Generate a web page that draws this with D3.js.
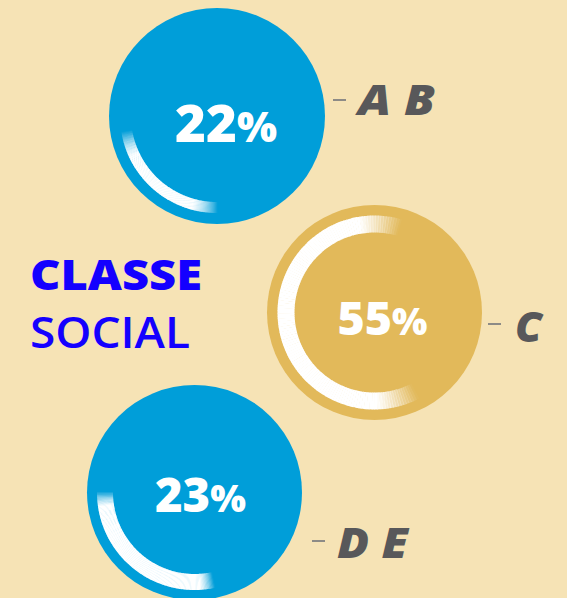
<!DOCTYPE html>
<html><head><meta charset="utf-8">
<script src="https://cdn.jsdelivr.net/npm/d3@7"></script>
<style>
html,body{margin:0;padding:0;background:#f6e3b5;}
svg{display:block;}
</style></head>
<body>
<script>
// ---- data ----
const categories = ["A B", "C", "D E"];
const values = [22, 55, 23];
const titleLines = ["CLASSE", "SOCIAL"];

// ---- layout / style ----
const W = 567, H = 598;
const FONT = "'Open Sans', Lato, sans-serif";
const colors = ["#009ed9", "#e2b95a", "#009ed9"];
const layout = [
  {cx:217, cy:116, r:108, ri:86, ro:97, mid:220, ext:2, fade:16, fs:52, dx:9, by:142, vw:102, lx:333, ly:100, tx:358, tb:115, tw:77},
  {cx:374.5, cy:312.5, r:107.5, ri:80, ro:97, mid:264.5, ext:26, fade:26, fs:46, dx:8, by:335, vw:90, lx:488, ly:324, tx:515, tb:342, tw:27},
  {cx:194.5, cy:492.5, r:107.5, ri:81.5, ro:97.5, mid:219, ext:20, fade:9, fs:47, dx:6, by:512, vw:91, lx:312, ly:541, tx:337, tb:558, tw:71}
];

const svg = d3.select("body").append("svg").attr("width", W).attr("height", H);
svg.append("rect").attr("width", W).attr("height", H).attr("fill", "#f6e3b5");

const angle = d3.scaleLinear().domain([0, 100]).range([0, 360]);
const rad = d => d * Math.PI / 180;

values.forEach((v, i) => {
  const L = layout[i];
  const g = svg.append("g").attr("transform", `translate(${L.cx},${L.cy})`);
  g.append("circle").attr("r", L.r).attr("fill", colors[i]);

  // white progress arc, faded at both ends
  const total = angle(v) + L.ext;
  const a0 = L.mid - total / 2;
  const N = 140;
  const step = total / N;
  const arc = d3.arc().innerRadius(L.ri).outerRadius(L.ro);
  for (let k = 0; k < N; k++) {
    const t0 = k * step, t1 = (k + 1) * step + 0.3;
    const tm = (k + 0.5) * step;
    const op = Math.max(0, Math.min(1, tm / L.fade, (total - tm) / L.fade));
    g.append("path")
      .attr("d", arc({startAngle: rad(a0 + t0), endAngle: rad(a0 + Math.min(t1, total))}))
      .attr("fill", "#fff").attr("fill-opacity", op);
  }

  // value label
  const t = g.append("text")
    .attr("x", L.dx).attr("y", L.by - L.cy)
    .attr("text-anchor", "middle")
    .attr("font-family", FONT)
    .attr("font-weight", 800)
    .attr("fill", "#fff")
    .attr("font-size", L.fs)
    .attr("textLength", L.vw).attr("lengthAdjust", "spacingAndGlyphs");
  t.append("tspan").text(v);
  t.append("tspan").attr("font-size", L.fs * 0.8).text("%");

  // dash + category label
  svg.append("line")
    .attr("x1", L.lx).attr("x2", L.lx + 13)
    .attr("y1", L.ly).attr("y2", L.ly)
    .attr("stroke", "#8d8b86").attr("stroke-width", 2);
  svg.append("text")
    .attr("x", L.tx).attr("y", L.tb)
    .attr("font-family", FONT)
    .attr("font-weight", 800).attr("font-style", "italic")
    .attr("font-size", 42)
    .attr("fill", "#58585a")
    .attr("textLength", L.tw).attr("lengthAdjust", "spacingAndGlyphs")
    .text(categories[i]);
});

// title
svg.append("text").attr("x", 30).attr("y", 290)
  .attr("font-family", FONT).attr("font-weight", 800)
  .attr("font-size", 42).attr("fill", "#1400ff")
  .attr("textLength", 172).attr("lengthAdjust", "spacingAndGlyphs")
  .text(titleLines[0]);
svg.append("text").attr("x", 30).attr("y", 348)
  .attr("font-family", FONT).attr("font-weight", 600)
  .attr("font-size", 43).attr("fill", "#1400ff")
  .attr("textLength", 160).attr("lengthAdjust", "spacingAndGlyphs")
  .text(titleLines[1]);
</script>
</body></html>
